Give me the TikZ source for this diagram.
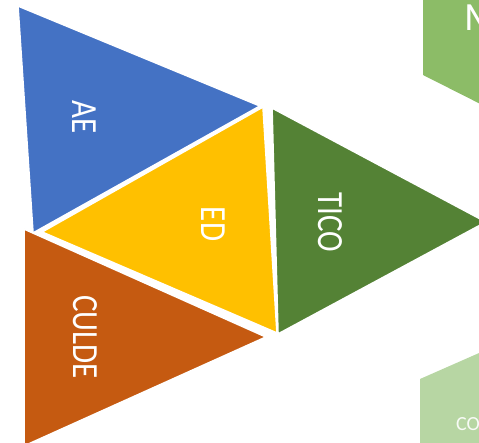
\documentclass[tikz,border=0pt]{standalone}
\usepackage{fontspec}
\setmainfont{Carlito}
\definecolor{cblue}{HTML}{4472C4}
\definecolor{cyellow}{HTML}{FFC000}
\definecolor{cgreen}{HTML}{548235}
\definecolor{corange}{HTML}{C55A11}
\definecolor{cmidgreen}{HTML}{8CBC67}
\definecolor{cpalegreen}{HTML}{B7D6A3}
\begin{document}
\begin{tikzpicture}[x=1pt,y=-1pt,
  tri/.style={draw=white, line width=1.6pt, line join=miter},
  lbl/.style={text=white, font=\fontsize{31}{31}\selectfont, rotate=-90, inner sep=0pt}]
\useasboundingbox (0,0) rectangle (479,443);
\clip (0,0) rectangle (479,443);
% partial shapes on the right
\fill[cmidgreen] (423,-10) -- (423,75) -- (520,124) -- (520,-10) -- cycle;
\fill[cpalegreen] (420,460) -- (420,379) -- (520,335) -- (520,460) -- cycle;
\node[text=white, font=\fontsize{40}{40}\selectfont, anchor=west, inner sep=0pt] (m) at (464,18) {M};
\node[text=white!90!cpalegreen, font=\fontsize{20}{20}\selectfont, anchor=west, inner sep=0pt] (co) at (456,424) {CO};
% triangles
\filldraw[tri, fill=cblue] (18,6) -- (260,106) -- (33,233) -- cycle;
\filldraw[tri, fill=cyellow] (263,107) -- (42,232) -- (277,333) -- cycle;
\filldraw[tri, fill=cgreen] (272,108) -- (486,222) -- (278,334) -- cycle;
\filldraw[tri, fill=corange] (24,229) -- (266,337) -- (24,446) -- cycle;
% labels
\node[lbl] (ae) at (84,117) {\scalebox{1}[1.19]{AE}};
\node[lbl] (ed) at (213,224) {\scalebox{1}[1.19]{ED}};
\node[lbl] (tico) at (330,222) {\scalebox{1}[1.19]{TICO}};
\node[lbl] (culde) at (85,337) {\scalebox{1}[1.19]{CULDE}};
\end{tikzpicture}
\end{document}
